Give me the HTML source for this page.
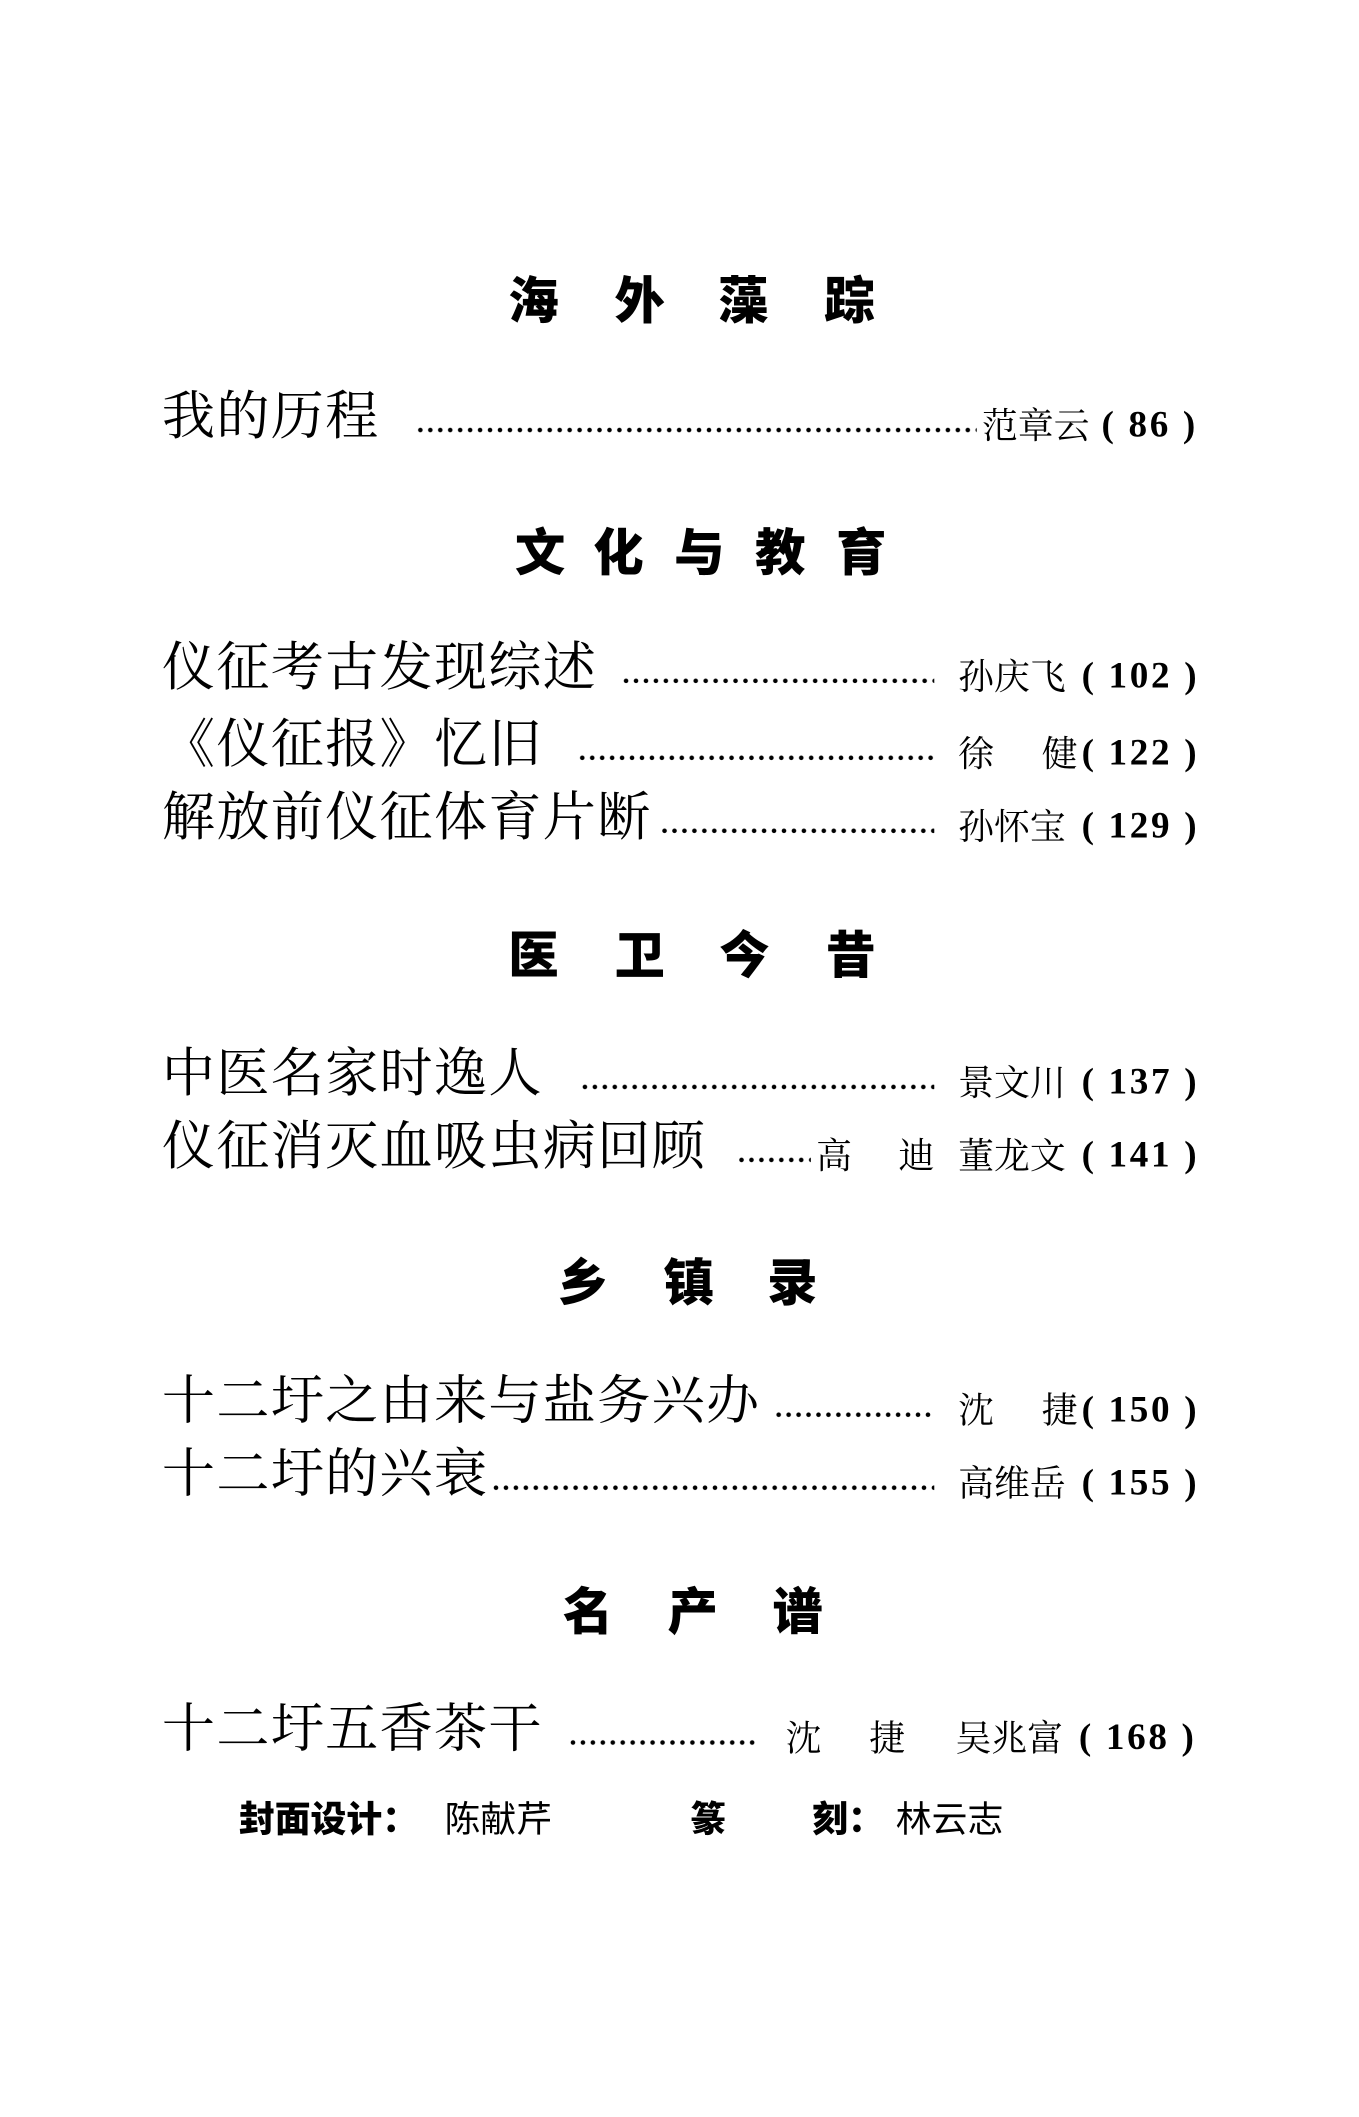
<!DOCTYPE html>
<html><head><meta charset="utf-8">
<style>
html,body{margin:0;padding:0;background:#fff;}
body{width:1359px;height:2108px;overflow:hidden;position:relative;}
#w{position:absolute;left:0;top:8px;width:1024px;height:1589px;transform:scale(1.3271);transform-origin:0 0;}
.a{position:absolute;white-space:nowrap;line-height:1;color:#000;}
.h{font-family:"Liberation Sans","Noto Sans CJK SC",sans-serif;font-weight:900;font-size:38px;}
.t{font-family:"Liberation Serif","Noto Serif CJK SC",serif;font-size:40px;letter-spacing:1px;}
.au{font-family:"Liberation Serif","Noto Serif CJK SC",serif;font-size:27px;}
.pg{font-family:"Liberation Serif",serif;font-size:28px;font-weight:bold;letter-spacing:2px;}
.d{position:absolute;height:4px;background:radial-gradient(circle,#000 1.5px,transparent 1.9px) 0 0/7.5px 4px repeat-x;}
.f{font-family:"Liberation Sans","Noto Sans CJK SC",sans-serif;font-size:27px;}
</style></head><body><div id="w">
<div class="a h" style="left:383px;top:203px">海</div>
<div class="a h" style="left:463px;top:203px">外</div>
<div class="a h" style="left:541px;top:203px">藻</div>
<div class="a h" style="left:621px;top:203px">踪</div>

<div class="a t" style="left:122px;top:288px">我的历程</div>
<div class="d" style="left:313px;width:423px;top:316px"></div>
<div class="a au" style="left:740px;top:302px">范章云</div>
<div class="a pg" style="left:830px;top:301px">( 86 )</div>

<div class="a h" style="left:388px;top:393px">文</div>
<div class="a h" style="left:447px;top:393px">化</div>
<div class="a h" style="left:508px;top:393px">与</div>
<div class="a h" style="left:569px;top:393px">教</div>
<div class="a h" style="left:630px;top:393px">育</div>

<div class="a t" style="left:122px;top:477px">仪征考古发现综述</div>
<div class="d" style="left:468px;width:236px;top:505px"></div>
<div class="a au" style="left:722px;top:491px">孙庆飞</div>
<div class="a pg" style="left:815px;top:490px">( 102 )</div>

<div class="a t" style="left:122px;top:535px">《仪征报》忆旧</div>
<div class="d" style="left:435px;width:269px;top:563px"></div>
<div class="a au" style="left:722px;top:549px">徐</div>
<div class="a au" style="left:785px;top:549px">健</div>
<div class="a pg" style="left:815px;top:548px">( 122 )</div>

<div class="a t" style="left:122px;top:590px">解放前仪征体育片断</div>
<div class="d" style="left:497px;width:207px;top:618px"></div>
<div class="a au" style="left:722px;top:604px">孙怀宝</div>
<div class="a pg" style="left:815px;top:603px">( 129 )</div>

<div class="a h" style="left:383px;top:696px">医</div>
<div class="a h" style="left:463px;top:696px">卫</div>
<div class="a h" style="left:542px;top:696px">今</div>
<div class="a h" style="left:622px;top:696px">昔</div>

<div class="a t" style="left:122px;top:783px">中医名家时逸人</div>
<div class="d" style="left:437px;width:267px;top:811px"></div>
<div class="a au" style="left:722px;top:797px">景文川</div>
<div class="a pg" style="left:815px;top:796px">( 137 )</div>

<div class="a t" style="left:122px;top:838px">仪征消灭血吸虫病回顾</div>
<div class="d" style="left:555px;width:56px;top:866px"></div>
<div class="a au" style="left:615px;top:852px">高</div>
<div class="a au" style="left:677px;top:852px">迪</div>
<div class="a au" style="left:722px;top:852px">董龙文</div>
<div class="a pg" style="left:815px;top:851px">( 141 )</div>

<div class="a h" style="left:420px;top:943px">乡</div>
<div class="a h" style="left:500px;top:943px">镇</div>
<div class="a h" style="left:578px;top:943px">录</div>

<div class="a t" style="left:122px;top:1030px">十二圩之由来与盐务兴办</div>
<div class="d" style="left:583px;width:121px;top:1058px"></div>
<div class="a au" style="left:722px;top:1044px">沈</div>
<div class="a au" style="left:785px;top:1044px">捷</div>
<div class="a pg" style="left:815px;top:1043px">( 150 )</div>

<div class="a t" style="left:122px;top:1085px">十二圩的兴衰</div>
<div class="d" style="left:370px;width:334px;top:1113px"></div>
<div class="a au" style="left:722px;top:1099px">高维岳</div>
<div class="a pg" style="left:815px;top:1098px">( 155 )</div>

<div class="a h" style="left:424px;top:1191px">名</div>
<div class="a h" style="left:503px;top:1191px">产</div>
<div class="a h" style="left:582px;top:1191px">谱</div>

<div class="a t" style="left:122px;top:1277px">十二圩五香茶干</div>
<div class="d" style="left:428px;width:143px;top:1305px"></div>
<div class="a au" style="left:592px;top:1291px">沈</div>
<div class="a au" style="left:655px;top:1291px">捷</div>
<div class="a au" style="left:720px;top:1291px">吴兆富</div>
<div class="a pg" style="left:813px;top:1290px">( 168 )</div>

<div class="a f" style="left:180px;top:1352px;font-weight:900">封面设计：</div>
<div class="a f" style="left:335px;top:1352px">陈献芹</div>
<div class="a f" style="left:520px;top:1352px;font-weight:900">篆</div>
<div class="a f" style="left:612px;top:1352px;font-weight:900">刻：</div>
<div class="a f" style="left:675px;top:1352px">林云志</div>
</div></body></html>
